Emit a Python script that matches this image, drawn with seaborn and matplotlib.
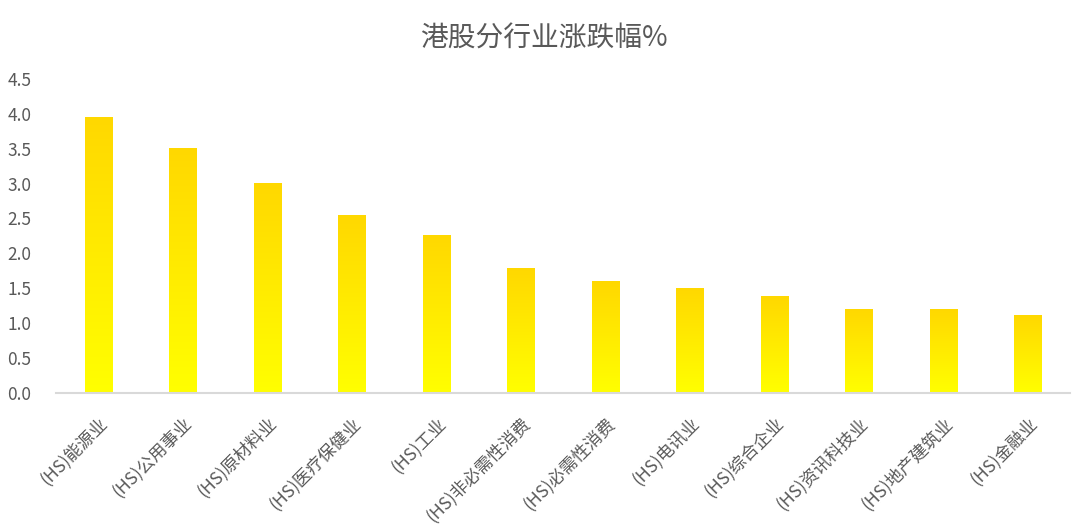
import numpy as np
import pandas as pd
import matplotlib
matplotlib.use("Agg")
import matplotlib.pyplot as plt
from matplotlib.colors import LinearSegmentedColormap
import seaborn as sns

sectors = [
    "(HS)能源业", "(HS)公用事业", "(HS)原材料业", "(HS)医疗保健业", "(HS)工业",
    "(HS)非必需性消费", "(HS)必需性消费", "(HS)电讯业", "(HS)综合企业",
    "(HS)资讯科技业", "(HS)地产建筑业", "(HS)金融业",
]
changes = [3.94, 3.50, 3.00, 2.54, 2.26, 1.79, 1.59, 1.49, 1.38, 1.19, 1.19, 1.11]
y_ticks = [0.0, 0.5, 1.0, 1.5, 2.0, 2.5, 3.0, 3.5, 4.0, 4.5]

sns.set_theme(style="white")
plt.rcParams["font.family"] = ["Noto Sans CJK SC", "DejaVu Sans"]

df = pd.DataFrame({"sector": sectors, "change": changes})

fig = plt.figure(figsize=(10.87, 5.29), dpi=100)
ax = fig.add_axes([0.0515, 0.257, 0.933, 0.594])

sns.barplot(data=df, x="sector", y="change", color="#FFE600", width=0.32,
            saturation=1, ax=ax)

# gold at top -> yellow at bottom, per bar
cmap = LinearSegmentedColormap.from_list("gy", ["#FFFF00", "#FFD800"])
grad = np.linspace(0, 1, 256).reshape(-1, 1)
for p in ax.patches:
    x0, y0 = p.get_x(), p.get_y()
    w, h = p.get_width(), p.get_height()
    ax.imshow(grad, cmap=cmap, origin="lower", aspect="auto",
              extent=[x0, x0 + w, y0, y0 + h], zorder=2)
    p.set_facecolor("none")
    p.set_edgecolor("none")

ax.set_xlim(-0.5, len(sectors) - 0.5)
ax.set_ylim(0, 4.5)
ax.set_yticks(y_ticks)
ax.set_yticklabels([f"{t:.1f}" for t in y_ticks], fontsize=12.5, color="#595959")
ax.set_xticks(range(len(sectors)))
ax.set_xticklabels(sectors, rotation=45, ha="right", rotation_mode="anchor",
                   fontsize=12.5, color="#595959")
ax.tick_params(axis="both", length=0)
ax.tick_params(axis="x", pad=15)
ax.tick_params(axis="y", pad=35)
for yl in ax.get_yticklabels():
    yl.set_horizontalalignment("left")
ax.set_xlabel("")
ax.set_ylabel("")

for s in ["top", "right", "left"]:
    ax.spines[s].set_visible(False)
ax.spines["bottom"].set_color("#D9D9D9")
ax.spines["bottom"].set_linewidth(1.5)

fig.suptitle("港股分行业涨跌幅%", x=0.5, y=0.955, fontsize=20, color="#595959")

fig.savefig("out.png", dpi=100)
